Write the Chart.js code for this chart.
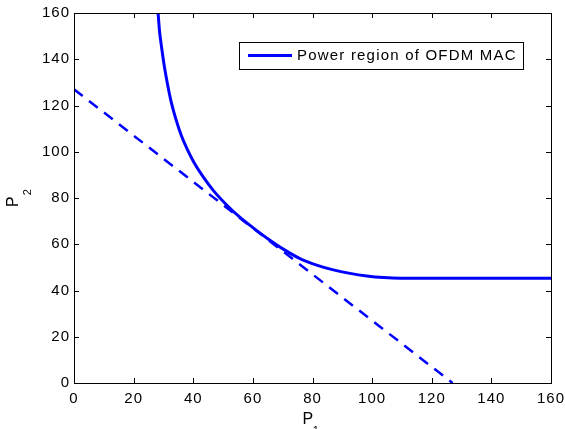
<!DOCTYPE html>
<html>
<head>
<meta charset="utf-8">
<script src="https://cdn.jsdelivr.net/npm/chart.js@4/dist/chart.umd.min.js"></script>
<style>
  html, body { margin: 0; padding: 0; background: #fff; }
  #wrap { width: 565px; height: 429px; position: relative; }
</style>
</head>
<body>
<div id="wrap"><canvas id="c" width="565" height="429"></canvas></div>
<script>
// ---- data ----
const seriesLabel = 'Power region of OFDM MAC';
const p1Curve = [28.2, 28.7, 29.4, 30.3, 31.4, 32.7, 34.2, 36.0, 38.0, 40.2, 43.4, 46.7, 51.2, 55.7, 60.0, 65.0, 70.2, 75.8, 81.4, 87.0, 92.6, 98.2, 103.8, 109.4, 120.0, 140.0, 160.0];
const p2Curve = [160, 152, 145, 137, 129, 121, 114, 107, 101, 95.5, 89.0, 83.3, 77.0, 71.6, 67.2, 62.4, 57.9, 53.8, 51.0, 48.9, 47.4, 46.3, 45.6, 45.3, 45.3, 45.3, 45.3];
const p1Dash = [0, 127];
const p2Dash = [127, 0];
const xTicks = [0, 20, 40, 60, 80, 100, 120, 140, 160];
const yTicks = [0, 20, 40, 60, 80, 100, 120, 140, 160];
const xTitle = ['P', '1'];
const yTitle = ['P', '2'];

const FONT = '"Liberation Sans", Arial, Helvetica, sans-serif';
const BLUE = '#0000ff';

const toPts = (xs, ys) => xs.map((x, i) => ({ x: x, y: ys[i] }));

const spacingPlugin = {
  id: 'spacing',
  beforeDraw(chart) {
    chart.ctx.letterSpacing = '1px';
  }
};

const framePlugin = {
  id: 'frame',
  afterDraw(chart) {
    const ctx = chart.ctx;
    const a = chart.chartArea;
    const xs = chart.scales.x, ys = chart.scales.y;
    ctx.save();
    ctx.letterSpacing = '0px';
    // box
    ctx.strokeStyle = '#000';
    ctx.lineWidth = 1;
    ctx.strokeRect(Math.round(a.left) + 0.5, Math.round(a.top) + 0.5,
                   Math.round(a.right - a.left), Math.round(a.bottom - a.top));
    // inward ticks
    const tl = 5;
    ctx.beginPath();
    xTicks.forEach(v => {
      const px = Math.round(xs.getPixelForValue(v)) + 0.5;
      ctx.moveTo(px, a.bottom); ctx.lineTo(px, a.bottom - tl);
      ctx.moveTo(px, a.top); ctx.lineTo(px, a.top + tl);
    });
    yTicks.forEach(v => {
      const py = Math.round(ys.getPixelForValue(v)) + 0.5;
      ctx.moveTo(a.left, py); ctx.lineTo(a.left + tl, py);
      ctx.moveTo(a.right, py); ctx.lineTo(a.right - tl, py);
    });
    ctx.stroke();

    // axis titles with subscripts
    ctx.fillStyle = '#000';
    ctx.textBaseline = 'alphabetic';
    ctx.textAlign = 'left';
    const cx = (a.left + a.right) / 2;
    ctx.font = '16px ' + FONT;
    ctx.fillText(xTitle[0], cx - 10, 423.5);
    const pw = ctx.measureText(xTitle[0]).width;
    ctx.font = '11px ' + FONT;
    ctx.fillText(xTitle[1], cx - 10 + pw - 0.5, 434);

    const cy = (a.top + a.bottom) / 2;
    ctx.translate(18, cy + 9);
    ctx.rotate(-Math.PI / 2);
    ctx.font = '16px ' + FONT;
    ctx.fillText(yTitle[0], 0, 0);
    const pw2 = ctx.measureText(yTitle[0]).width;
    ctx.font = '11px ' + FONT;
    ctx.fillText(yTitle[1], pw2 + 1, 13);
    ctx.restore();

    // legend
    ctx.save();
    const lx = 239.5, ly = 42.5, lw = 284, lh = 27;
    ctx.fillStyle = '#fff';
    ctx.fillRect(lx, ly, lw, lh);
    ctx.strokeStyle = '#000';
    ctx.lineWidth = 1;
    ctx.strokeRect(lx, ly, lw, lh);
    ctx.strokeStyle = BLUE;
    ctx.lineWidth = 3;
    ctx.beginPath();
    ctx.moveTo(248, 55.5); ctx.lineTo(292, 55.5);
    ctx.stroke();
    ctx.fillStyle = '#000';
    ctx.font = '15px ' + FONT;
    ctx.letterSpacing = '1.2px';
    ctx.textBaseline = 'middle';
    ctx.textAlign = 'left';
    ctx.fillText(chart.data.datasets[0].label, 297, 56);
    ctx.restore();
  }
};

new Chart(document.getElementById('c'), {
  type: 'scatter',
  data: {
    datasets: [
      {
        label: seriesLabel,
        data: toPts(p1Curve, p2Curve),
        showLine: true,
        borderColor: BLUE,
        backgroundColor: BLUE,
        borderWidth: 3,
        pointRadius: 0,
        cubicInterpolationMode: 'monotone'
      },
      {
        label: 'bound',
        data: toPts(p1Dash, p2Dash),
        showLine: true,
        borderColor: BLUE,
        backgroundColor: BLUE,
        borderWidth: 2.5,
        borderDash: [11, 8],
        pointRadius: 0
      }
    ]
  },
  options: {
    responsive: false,
    animation: false,
    devicePixelRatio: 1,
    layout: { padding: { left: 0, right: 14, top: 13, bottom: 0 } },
    plugins: { legend: { display: false }, tooltip: { enabled: false } },
    scales: {
      x: {
        type: 'linear', min: 0, max: 160,
        afterBuildTicks(s) { s.ticks = xTicks.map(v => ({ value: v })); },
        afterFit(s) { s.height = 46; s.paddingLeft = 0; s.paddingRight = 0; },
        grid: { display: false, drawTicks: false },
        border: { display: false },
        ticks: { color: '#000', font: { family: FONT, size: 15 }, padding: 7, maxRotation: 0 }
      },
      y: {
        type: 'linear', min: 0, max: 160,
        afterBuildTicks(s) { s.ticks = yTicks.map(v => ({ value: v })); },
        afterFit(s) { s.width = 74; s.paddingTop = 0; s.paddingBottom = 0; },
        grid: { display: false, drawTicks: false },
        border: { display: false },
        ticks: { color: '#000', font: { family: FONT, size: 15 }, padding: 4 }
      }
    }
  },
  plugins: [spacingPlugin, framePlugin]
});
</script>
</body>
</html>
